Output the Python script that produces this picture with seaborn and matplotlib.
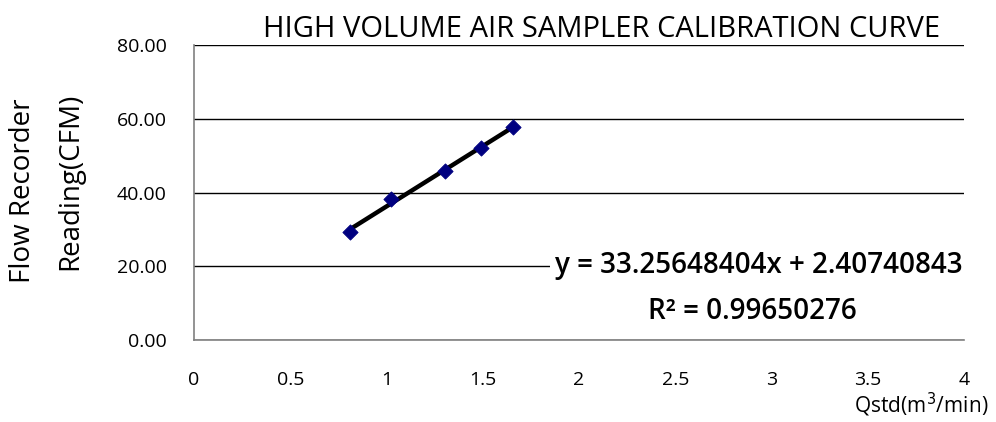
import pandas as pd
import matplotlib
matplotlib.use("Agg")
import matplotlib.pyplot as plt
import seaborn as sns

# dati
qstd = [0.81, 1.023, 1.304, 1.491, 1.657]
flow = [29.3, 38.2, 45.8, 52.1, 57.8]
equation = "y = 33.25648404x + 2.40740843"
r2_text = "R² = 0.99650276"
y_ticks = [0, 20, 40, 60, 80]
x_ticks = [0, 0.5, 1, 1.5, 2, 2.5, 3, 3.5, 4]

df = pd.DataFrame({"Qstd": qstd, "Flow": flow})

sns.set_style("white")
plt.rcParams["font.family"] = ["Open Sans", "DejaVu Sans"]
plt.rcParams["text.color"] = "black"
plt.rcParams["xtick.labelcolor"] = "black"
plt.rcParams["ytick.labelcolor"] = "black"

fig = plt.figure(figsize=(9.96, 4.22), dpi=100)
ax = fig.add_axes([0.1948, 0.1943, 0.773, 0.699])

# linea di tendenza + punti
sns.regplot(data=df, x="Qstd", y="Flow", ci=None, ax=ax, scatter=False,
            line_kws={"color": "black", "lw": 3.2, "zorder": 2})
sns.scatterplot(data=df, x="Qstd", y="Flow", ax=ax, marker="D", s=60,
                color="#000080", edgecolor="#000080", zorder=3)

ax.set_xlim(0, 4)
ax.set_ylim(0, 80)
ax.set_xticks(x_ticks)
ax.set_xticklabels([f"{t:g}" for t in x_ticks], fontsize=14)
ax.set_yticks(y_ticks)
ax.set_yticklabels([f"{t:.2f}" for t in y_ticks], fontsize=14)
ax.yaxis.grid(True, color="black", lw=1)
ax.set_axisbelow(True)
ax.set_xlabel("")
ax.set_ylabel("")

for s in ["top", "right"]:
    ax.spines[s].set_visible(False)
for s in ["left", "bottom"]:
    ax.spines[s].set_color("#808080")
    ax.spines[s].set_linewidth(1.2)
ax.tick_params(axis="y", direction="inout", length=11, color="#808080", pad=14)
ax.tick_params(axis="x", direction="out", length=6, color="#808080", pad=16)

fig.text(0.604, 0.929, "HIGH VOLUME AIR SAMPLER CALIBRATION CURVE",
         ha="center", va="center", fontsize=21)
fig.text(0.023, 0.547, "Flow Recorder", rotation=90, ha="center", va="center", fontsize=20)
fig.text(0.071, 0.571, "Reading(CFM)", rotation=90, ha="center", va="center", fontsize=20)
fig.text(0.992, 0.040, "Qstd(m$^{3}$/min)", ha="right", va="center", fontsize=15)

ax.text(0.762, 0.372, equation, transform=fig.transFigure, ha="center", va="center",
        fontsize=20, fontweight="semibold",
        bbox=dict(facecolor="white", edgecolor="none", pad=4))
ax.text(0.755, 0.261, r2_text, transform=fig.transFigure, ha="center", va="center",
        fontsize=20, fontweight="semibold")

fig.savefig("out.png", dpi=100)
